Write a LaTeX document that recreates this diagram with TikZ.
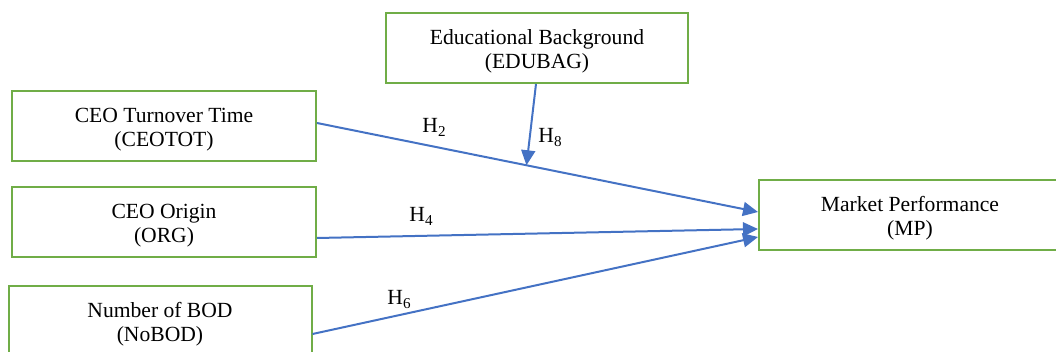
\documentclass[tikz,border=0pt]{standalone}
\usepackage{fontspec}
\setmainfont{Liberation Serif}
\usetikzlibrary{arrows.meta}
\definecolor{boxgreen}{HTML}{70AD47}
\definecolor{linkblue}{HTML}{4472C4}
\begin{document}
\begin{tikzpicture}[
  x=0.5pt, y=-0.5pt,
  var/.style={draw=boxgreen, line width=1pt, align=center, minimum height=35pt, text height=22.5pt, font=\fontsize{10.8}{12}\selectfont},
  link/.style={draw=linkblue, line width=1pt, -{Triangle[length=7.5pt,width=7pt]}},
  hyp/.style={anchor=base west, inner sep=0pt, font=\fontsize{10.8}{12}\selectfont}
]
\useasboundingbox (0,0) rectangle (1056,352);
\node[var, minimum width=151pt] (edu) at (537,48) {Educational Background\\(EDUBAG)};
\node[var, minimum width=152pt] (tot) at (164,126.5) {CEO Turnover Time\\(CEOTOT)};
\node[var, minimum width=152pt] (org) at (164,222.5) {CEO Origin\\(ORG)};
\node[var, minimum width=151.5pt] (bod) at (160,321.5) {Number of BOD\\(NoBOD)};
\node[var, minimum width=151pt] (mp) at (910,215.5) {Market Performance\\(MP)};
\draw[link] ([yshift=1.75pt]tot.east) -- ([yshift=1.75pt]mp.west) coordinate[pos=0.475] (mod);
\draw[link] ([yshift=-7.75pt]org.east) -- ([yshift=-6.75pt]mp.west);
\draw[link] ([yshift=-6.25pt]bod.east) -- ([yshift=-10.75pt]mp.west);
\draw[link] ([xshift=-0.5pt]edu.south) -- (mod);
\node[hyp] (h2) at (422,133) {H\textsubscript{2}};
\node[hyp] (h8) at (538,143) {H\textsubscript{8}};
\node[hyp] (h4) at (409,222) {H\textsubscript{4}};
\node[hyp] (h6) at (387,305) {H\textsubscript{6}};
\end{tikzpicture}
\end{document}
